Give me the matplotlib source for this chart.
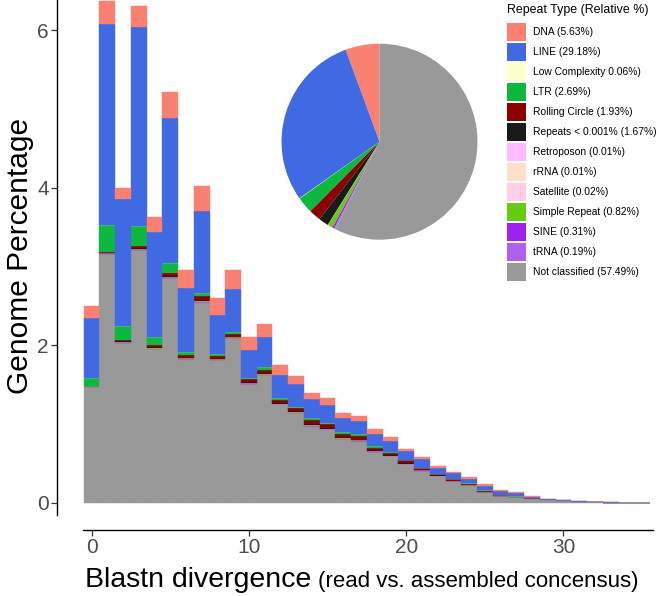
import matplotlib
matplotlib.use('Agg')
import matplotlib.pyplot as plt
from matplotlib.patches import Patch

plt.rcParams['font.family'] = ['Liberation Sans', 'DejaVu Sans']

divergence = list(range(36))

not_classified = [1.47, 3.16, 2.03, 3.21, 1.95, 2.85, 1.82, 2.54, 1.81, 2.09, 1.51, 1.62,
                  1.25, 1.14, 0.97, 0.93, 0.81, 0.78, 0.65, 0.59, 0.49, 0.41, 0.34, 0.275,
                  0.225, 0.135, 0.085, 0.07, 0.055, 0.034, 0.024, 0.013, 0.007, 0.0045, 0.0025, 0.0012]
trna = [0.003, 0.004, 0.004, 0.005, 0.004, 0.005, 0.004, 0.005, 0.004, 0.004, 0.004, 0.004,
        0.003, 0.003, 0.004, 0.003, 0.003, 0.003, 0.003, 0.002, 0.002, 0.002, 0.001, 0.001,
        0.001, 0.001, 0.001, 0.0005, 0.0003, 0.0002, 0.0001, 0.0001, 0, 0, 0, 0]
sine = [0.004, 0.006, 0.006, 0.007, 0.006, 0.007, 0.006, 0.007, 0.005, 0.005, 0.005, 0.006,
        0.005, 0.005, 0.006, 0.005, 0.005, 0.005, 0.004, 0.004, 0.004, 0.003, 0.002, 0.002,
        0.002, 0.002, 0.001, 0.001, 0.0005, 0.0003, 0.0002, 0.0001, 0, 0, 0, 0]
simple_repeat = [0.002, 0.003, 0.003, 0.004, 0.004, 0.005, 0.004, 0.006, 0.004, 0.004, 0.004, 0.005,
                 0.004, 0.004, 0.005, 0.005, 0.005, 0.005, 0.004, 0.004, 0.004, 0.003, 0.002, 0.002,
                 0.002, 0.002, 0.001, 0.001, 0.0005, 0.0003, 0.0002, 0.0001, 0, 0, 0, 0]
satellite = [0.0003, 0.0005, 0.0004, 0.0005, 0.0003, 0.0004, 0.0002, 0.0003, 0.0002, 0.0002, 0.0001, 0.0001,
             0.0001, 0.0001, 0.0001, 0, 0, 0, 0, 0, 0, 0, 0, 0, 0, 0, 0, 0, 0, 0, 0, 0, 0, 0, 0, 0]
rrna = [0.0002, 0.0003, 0.0002, 0.0003, 0.0002, 0.0002, 0.0001, 0.0001, 0.0001, 0.0001, 0, 0,
        0, 0, 0, 0, 0, 0, 0, 0, 0, 0, 0, 0, 0, 0, 0, 0, 0, 0, 0, 0, 0, 0, 0, 0]
retroposon = [0.0002, 0.0003, 0.0002, 0.0003, 0.0002, 0.0002, 0.0001, 0.0001, 0.0001, 0.0001, 0, 0,
              0, 0, 0, 0, 0, 0, 0, 0, 0, 0, 0, 0, 0, 0, 0, 0, 0, 0, 0, 0, 0, 0, 0, 0]
repeats_low = [0.003, 0.004, 0.006, 0.007, 0.009, 0.011, 0.009, 0.014, 0.007, 0.007, 0.009, 0.011,
               0.010, 0.010, 0.013, 0.011, 0.011, 0.011, 0.008, 0.008, 0.008, 0.005, 0.004, 0.004,
               0.003, 0.003, 0.002, 0.0015, 0.0007, 0.0004, 0.0003, 0.0002, 0.0002, 0.0001, 0.0001, 0]
rolling_circle = [0.008, 0.013, 0.021, 0.027, 0.037, 0.042, 0.037, 0.058, 0.030, 0.030, 0.038, 0.044,
                  0.038, 0.038, 0.052, 0.046, 0.046, 0.046, 0.031, 0.032, 0.032, 0.022, 0.016, 0.016,
                  0.012, 0.012, 0.008, 0.006, 0.002, 0.0018, 0.0012, 0.001, 0.0006, 0.0002, 0.0001, 0.0001]
ltr = [0.09, 0.34, 0.18, 0.25, 0.10, 0.12, 0.03, 0.04, 0.03, 0.03, 0.02, 0.03,
       0.02, 0.02, 0.025, 0.02, 0.02, 0.02, 0.02, 0.01, 0.01, 0.005, 0.005, 0.005,
       0.005, 0.005, 0.002, 0.003, 0.001, 0.001, 0.001, 0.0005, 0.0002, 0.0002, 0.0001, 0.0001]
low_complexity = [0.0005, 0.001, 0.0008, 0.001, 0.0006, 0.0008, 0.0004, 0.0005, 0.0003, 0.0003, 0.0002, 0.0002,
                  0.0001, 0.0001, 0.0001, 0.0001, 0, 0, 0, 0, 0, 0, 0, 0, 0, 0, 0, 0, 0, 0, 0, 0, 0, 0, 0, 0]
line = [0.77, 2.55, 1.60, 2.53, 1.33, 1.85, 0.82, 1.03, 0.50, 0.55, 0.35, 0.39,
        0.30, 0.29, 0.245, 0.22, 0.175, 0.17, 0.16, 0.14, 0.11, 0.105, 0.07, 0.07,
        0.06, 0.06, 0.05, 0.042, 0.02, 0.014, 0.010, 0.006, 0.003, 0.0015, 0.001, 0.0005]
dna = [0.15, 0.29, 0.14, 0.26, 0.19, 0.32, 0.22, 0.32, 0.21, 0.23, 0.16, 0.16,
       0.125, 0.10, 0.08, 0.09, 0.065, 0.07, 0.06, 0.05, 0.03, 0.025, 0.03, 0.015,
       0.02, 0.02, 0.01, 0.015, 0.005, 0.003, 0.003, 0.001, 0.001, 0.0005, 0.0003, 0.0002]

# legend order (top of stack first), with relative genome share used by the pie
labels = ['DNA (5.63%)', 'LINE (29.18%)', 'Low Complexity 0.06%)', 'LTR (2.69%)',
          'Rolling Circle (1.93%)', 'Repeats < 0.001% (1.67%)', 'Retroposon (0.01%)',
          'rRNA (0.01%)', 'Satellite (0.02%)', 'Simple Repeat (0.82%)', 'SINE (0.31%)',
          'tRNA (0.19%)', 'Not classified (57.49%)']
relative_pct = [5.63, 29.18, 0.06, 2.69, 1.93, 1.67, 0.01, 0.01, 0.02, 0.82, 0.31, 0.19, 57.49]
colors = ['#FA8072', '#4169E1', '#FFFFCC', '#0DB83E', '#8B0000', '#1A1A1A', '#FFBBFF',
          '#FFDFC8', '#FFCCE5', '#66CC11', '#A020F0', '#B060EE', '#999999']
series = [dna, line, low_complexity, ltr, rolling_circle, repeats_low, retroposon,
          rrna, satellite, simple_repeat, sine, trna, not_classified]

W, H = 661, 596
fig = plt.figure(figsize=(W / 100, H / 100), dpi=100)
ax = fig.add_axes([57 / W, 66 / H, (W - 57) / W, 530 / H])

bottom = [0.0] * len(divergence)
for vals, col in zip(series[::-1], colors[::-1]):
    ax.bar(divergence, vals, width=1.0, bottom=bottom, color=col,
           edgecolor=col, linewidth=0.3)
    bottom = [b + v for b, v in zip(bottom, vals)]

ax.set_xlim(-2.2, 36.2)
ax.set_ylim(-0.343, 6.383)
ax.set_xticks([0, 10, 20, 30])
ax.set_yticks([0, 2, 4, 6])
for s in ['top', 'right']:
    ax.spines[s].set_visible(False)
ax.spines['left'].set_bounds(-0.15, 6.383)
ax.spines['bottom'].set_bounds(-0.55, 35.7)
for s in ['left', 'bottom']:
    ax.spines[s].set_linewidth(1.0)
    ax.spines[s].set_color('black')
ax.tick_params(labelsize=15, labelcolor='#4D4D4D', length=4, width=0.9, color='#333333', pad=2)

fig.text(20 / W, 1 - 256 / H, 'Genome Percentage', rotation=90, ha='center', va='center', fontsize=21.5)

t1 = fig.text(85 / W, 1 - 587 / H, 'Blastn divergence', ha='left', va='baseline', fontsize=20.5)
fig.canvas.draw()
bb = t1.get_window_extent()
fig.text((bb.x1 + 7) / W, 1 - 587 / H, '(read vs. assembled concensus)', ha='left', va='baseline', fontsize=16)

pax = fig.add_axes([(379.5 - 98) / W, (H - 141.7 - 98) / H, 196 / W, 196 / H])
pax.pie(relative_pct, colors=colors, startangle=90, counterclock=True,
        wedgeprops=dict(linewidth=0))
pax.set_xlim(-1, 1)
pax.set_ylim(-1, 1)

fig.text(507 / W, 1 - 10 / H, 'Repeat Type (Relative %)', ha='left', va='center', fontsize=8.9)
handles = [Patch(facecolor=c, edgecolor='none') for c in colors]
fig.legend(handles, labels, loc='upper left', bbox_to_anchor=(507 / W, 1 - 22.5 / H),
           frameon=False, fontsize=7.4,
           handlelength=1.85, handleheight=2.32, labelspacing=0.195, handletextpad=0.68,
           borderpad=0, borderaxespad=0)

fig.savefig('out.png', dpi=100)
